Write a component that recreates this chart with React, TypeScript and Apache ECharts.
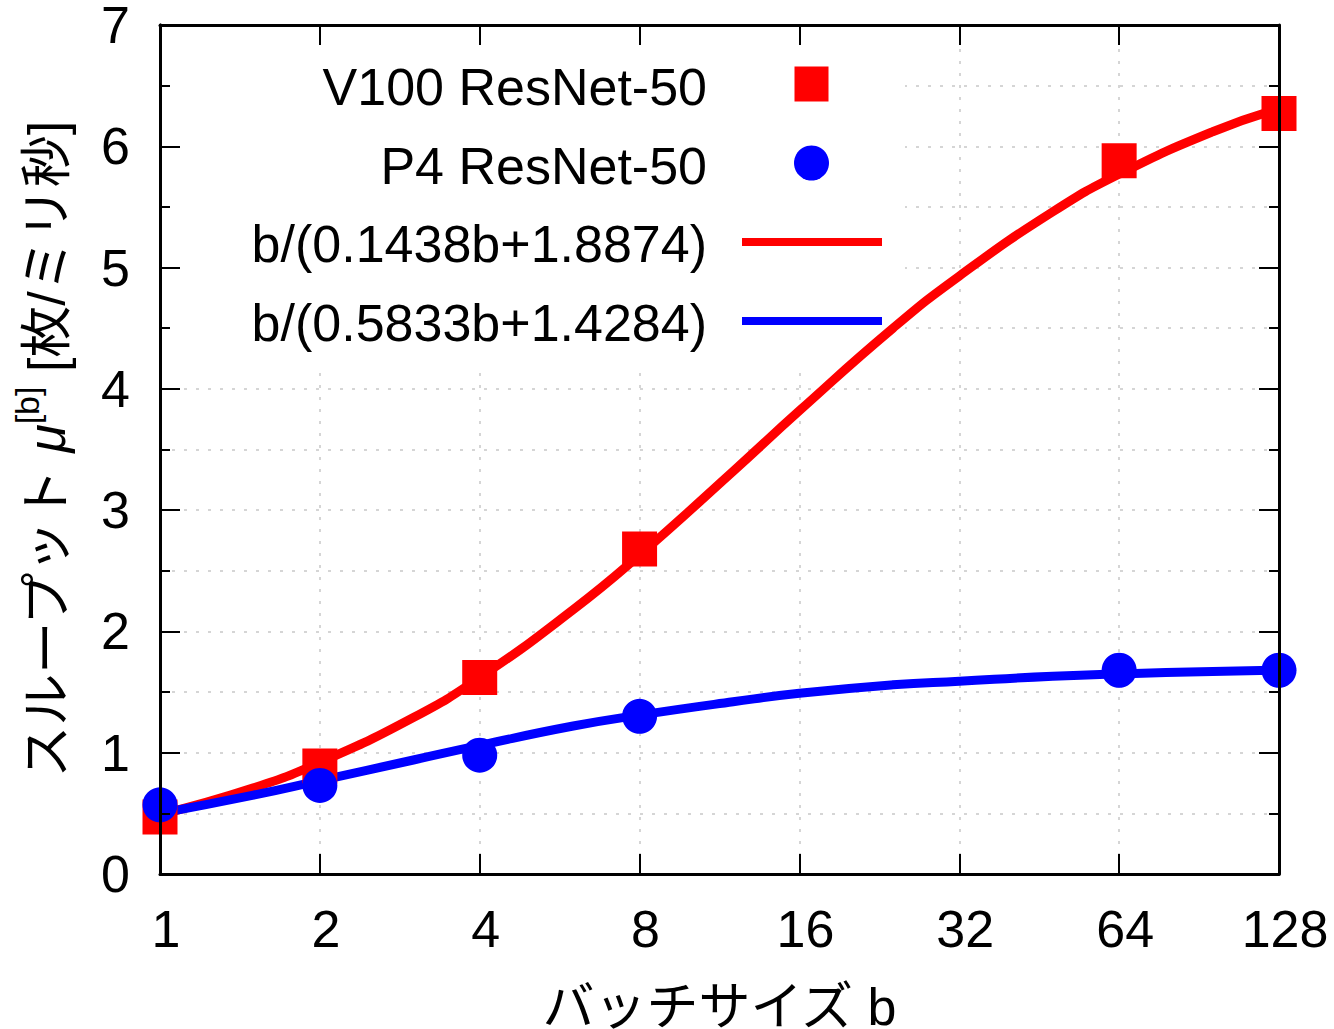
import React, { useEffect, useRef } from 'react';
import * as echarts from 'echarts';

// ---- data ----
const X_TICKS = [1, 2, 4, 8, 16, 32, 64, 128];
const Y_MIN = 0;
const Y_MAX = 7;

// measured points
const BATCH = [1, 2, 4, 8, 64, 128];
const V100_VALUES = [0.47, 0.89, 1.62, 2.68, 5.88, 6.27];
const P4_VALUES = [0.57, 0.73, 0.98, 1.3, 1.68, 1.68];

// fitted curves, values
const FIT_B = [1, 1.5, 2, 3, 4, 6, 8, 12, 16, 24, 32, 48, 64, 96, 128];
const FIT_V100 = [0.49, 0.71, 0.92, 1.29, 1.62, 2.18, 2.63, 3.32, 3.82, 4.5, 4.93, 5.46, 5.77, 6.12, 6.31];
const FIT_P4 = [0.5, 0.65, 0.77, 0.94, 1.06, 1.22, 1.31, 1.42, 1.49, 1.56, 1.59, 1.63, 1.65, 1.67, 1.68];

const LEGEND_V100 = 'V100 ResNet-50';
const LEGEND_P4 = 'P4 ResNet-50';
const LEGEND_FIT_V100 = 'b/(0.1438b+1.8874)';
const LEGEND_FIT_P4 = 'b/(0.5833b+1.4284)';
const X_TITLE = 'バッチサイズ b';

const RED = '#ff0000';
const BLUE = '#0000ff';
const FONT = '"Liberation Sans", "Noto Sans CJK JP", Arial, sans-serif';
const FS = 52;

const zip = (xs: number[], ys: number[]) => xs.map((x, i) => [x, ys[i]]);

const GRID_STYLE = { color: '#c8c8c8', width: 1.5, type: [3, 9] as any };
const AXIS_LINE = { show: true, onZero: false, lineStyle: { color: '#000', width: 3 } };
const TICK = { show: true, inside: true, length: 20, lineStyle: { color: '#000', width: 2 } };
const MINOR_TICK = { show: true, splitNumber: 2, length: 10, lineStyle: { color: '#000', width: 2 } };

function buildOption() {
  const xBase = {
    type: 'log' as const,
    logBase: 2,
    min: X_TICKS[0],
    max: X_TICKS[X_TICKS.length - 1],
    interval: 1,
    splitNumber: X_TICKS.length - 1,
    gridIndex: 0,
  };
  const yBase = {
    type: 'value' as const,
    min: Y_MIN,
    max: Y_MAX,
    interval: 1,
    gridIndex: 0,
  };
  const fitLine = (name: string, ys: number[], color: string) => ({
    type: 'line',
    name,
    data: zip(FIT_B, ys),
    xAxisIndex: 0,
    yAxisIndex: 0,
    smooth: 0.5,
    showSymbol: false,
    symbol: 'none',
    lineStyle: { color, width: 9, cap: 'round', join: 'round' },
    itemStyle: { color },
    z: 2,
  });
  return {
    animation: false,
    backgroundColor: '#ffffff',
    grid: {
      left: 160,
      right: 55,
      top: 25,
      bottom: 155,
      containLabel: false,
      outerBoundsMode: 'none',
    },
    xAxis: [
      {
        ...xBase,
        position: 'bottom',
        axisLine: AXIS_LINE,
        axisTick: TICK,
        axisLabel: {
          show: true,
          margin: 29,
          color: '#000',
          fontSize: FS,
          fontFamily: FONT,
          padding: [0, 0, 0, 12],
          formatter: (v: number) => String(Math.round(v)),
        },
        splitLine: { show: true, lineStyle: GRID_STYLE },
        name: X_TITLE,
        nameLocation: 'middle',
        nameGap: 113,
        nameTextStyle: { color: '#000', fontSize: FS, fontFamily: FONT, lineHeight: 40 },
        z: 0,
      },
      {
        ...xBase,
        position: 'top',
        axisLine: AXIS_LINE,
        axisTick: TICK,
        axisLabel: { show: false },
        splitLine: { show: false },
        z: 10,
      },
    ],
    yAxis: [
      {
        ...yBase,
        position: 'left',
        axisLine: AXIS_LINE,
        axisTick: TICK,
        minorTick: MINOR_TICK,
        axisLabel: {
          show: true,
          margin: 30,
          color: '#000',
          fontSize: FS,
          fontFamily: FONT,
          lineHeight: 40,
          padding: [6, 0, 0, 0],
        },
        splitLine: { show: true, lineStyle: GRID_STYLE },
        minorSplitLine: { show: true, lineStyle: GRID_STYLE },
        z: 0,
      },
      {
        ...yBase,
        position: 'left',
        axisLine: AXIS_LINE,
        axisTick: TICK,
        minorTick: MINOR_TICK,
        axisLabel: { show: false },
        splitLine: { show: false },
        minorSplitLine: { show: false },
        z: 10,
      },
      {
        ...yBase,
        position: 'right',
        axisLine: AXIS_LINE,
        axisTick: TICK,
        minorTick: MINOR_TICK,
        axisLabel: { show: false },
        splitLine: { show: false },
        minorSplitLine: { show: false },
        z: 10,
      },
    ],
    series: [
      fitLine(LEGEND_FIT_V100, FIT_V100, RED),
      fitLine(LEGEND_FIT_P4, FIT_P4, BLUE),
      {
        type: 'scatter',
        name: LEGEND_V100,
        data: zip(BATCH, V100_VALUES),
        xAxisIndex: 0,
        yAxisIndex: 0,
        symbol: 'rect',
        symbolSize: [35, 35],
        itemStyle: { color: RED, opacity: 1 },
        z: 3,
      },
      {
        type: 'scatter',
        name: LEGEND_P4,
        data: zip(BATCH, P4_VALUES),
        xAxisIndex: 0,
        yAxisIndex: 0,
        symbol: 'circle',
        symbolSize: 35,
        itemStyle: { color: BLUE, opacity: 1 },
        z: 4,
      },
    ],
    graphic: [
      // opaque key box (hides grid lines behind the key)
      {
        type: 'rect',
        shape: { x: 161.5, y: 26.5, width: 905 - 161.5, height: 365 - 26.5 },
        style: { fill: '#ffffff' },
        z: 1,
        silent: true,
      },
      {
        type: 'text',
        x: 707,
        y: 87,
        z: 20,
        style: { text: LEGEND_V100, fill: '#000', fontSize: FS, fontFamily: FONT, textAlign: 'right', verticalAlign: 'middle' },
      },
      {
        type: 'rect',
        shape: { x: 811.5 - 17, y: 84 - 17.5, width: 34, height: 35 },
        style: { fill: RED },
        z: 20,
      },
      {
        type: 'text',
        x: 707,
        y: 166,
        z: 20,
        style: { text: LEGEND_P4, fill: '#000', fontSize: FS, fontFamily: FONT, textAlign: 'right', verticalAlign: 'middle' },
      },
      {
        type: 'circle',
        shape: { cx: 811.5, cy: 163, r: 17.5 },
        style: { fill: BLUE },
        z: 20,
      },
      {
        type: 'text',
        x: 707,
        y: 244,
        z: 20,
        style: { text: LEGEND_FIT_V100, fill: '#000', fontSize: FS, fontFamily: FONT, textAlign: 'right', verticalAlign: 'middle' },
      },
      {
        type: 'line',
        shape: { x1: 742, y1: 242, x2: 882, y2: 242 },
        style: { stroke: RED, lineWidth: 8 },
        z: 20,
      },
      {
        type: 'text',
        x: 707,
        y: 323,
        z: 20,
        style: { text: LEGEND_FIT_P4, fill: '#000', fontSize: FS, fontFamily: FONT, textAlign: 'right', verticalAlign: 'middle' },
      },
      {
        type: 'line',
        shape: { x1: 742, y1: 321, x2: 882, y2: 321 },
        style: { stroke: BLUE, lineWidth: 8 },
        z: 20,
      },
      // y-axis title with superscript
      {
        type: 'text',
        x: 47,
        y: 450,
        rotation: Math.PI / 2,
        z: 20,
        style: {
          text: '{n|スループット }{mu|μ}{sup|[b]}{n| [枚/ミリ秒]}',
          fill: '#000',
          fontSize: FS,
          fontFamily: FONT,
          textAlign: 'center',
          verticalAlign: 'middle',
          rich: {
            n: { fontSize: FS, fontFamily: FONT, fill: '#000' },
            mu: { fontSize: FS, fontFamily: FONT, fontStyle: 'italic', fill: '#000' },
            sup: { fontSize: 34, fontFamily: FONT, fill: '#000', padding: [0, 0, 40, 0] },
          },
        },
      },
    ],
  };
}

export default function App() {
  const ref = useRef<HTMLDivElement>(null);
  useEffect(() => {
    document.body.style.margin = '0';
    if (!ref.current) return;
    const chart = echarts.init(ref.current, null, { renderer: 'svg' });
    chart.setOption(buildOption() as any);
    return () => {
      chart.dispose();
    };
  }, []);
  return <div ref={ref} style={{ width: 1334, height: 1029 }} />;
}
